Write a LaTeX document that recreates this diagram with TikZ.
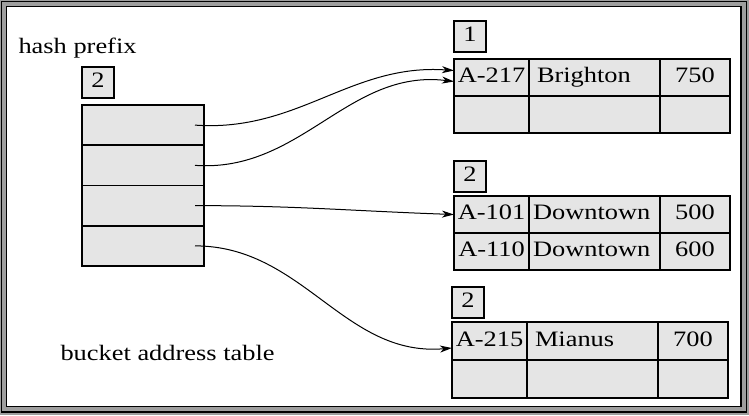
\documentclass[tikz,border=0pt]{standalone}
\usepackage{fontspec}
\setmainfont{Liberation Serif}[FakeStretch=1.2]
\usetikzlibrary{arrows.meta, positioning}
\definecolor{cellgray}{gray}{0.9}
\definecolor{framegray}{gray}{0.62}

\begin{document}
\begin{tikzpicture}[x=1pt, y=-1pt, >={Stealth[length=12pt, width=7pt, inset=3.5pt]},
  every node/.style={font=\fontsize{22}{25}\selectfont},
  cell/.style={draw, line width=1.6pt, fill=cellgray, inner sep=0pt, outer sep=0pt,
    anchor=north west, minimum height=37pt, text height=14.5pt, text depth=4.5pt},
  keycell/.style={cell, minimum width=75pt},
  namecell/.style={cell, minimum width=131pt, text width=115pt, align=left},
  valcell/.style={cell, minimum width=70pt},
  tag/.style={cell, minimum width=32pt, minimum height=31pt},
  link/.style={->, line width=1pt}]
\useasboundingbox (0,0) rectangle (749,415);
% frame
\fill[framegray] (0,0) rectangle (749,415);
\draw[line width=1.2pt] (1.8,1.8) rectangle (746.4,412);
\filldraw[fill=white, line width=1.5pt] (6.5,6.5) rectangle (741,406.5);

% bucket address table
\node[anchor=base west] (hashlbl) at (15,53) {hash prefix};
\node[tag] (depth) at (82,67) {2};
\node[cell, minimum width=122pt, minimum height=40.25pt] (bat1) at (82,105) {};
\foreach \i [count=\j from 2] in {1,2,3}
  \node[cell, minimum width=122pt, minimum height=40.25pt] (bat\j) at (bat\i.south west) {};
\foreach \i in {1,...,4}
  \coordinate (ptr\i) at ([xshift=-9pt]bat\i.east);
\node[anchor=base west] (tablelbl) at (57,360) {bucket address table};

% bucket 1
\node[keycell] (b1k1) at (454,59) {A-217};
\node[namecell] (b1n1) at (b1k1.north east) {Brighton};
\node[valcell] (b1v1) at (b1n1.north east) {750};
\node[keycell] (b1k2) at (b1k1.south west) {};
\node[namecell] (b1n2) at (b1k2.north east) {};
\node[valcell] (b1v2) at (b1n2.north east) {};
\node[tag, above right=7pt and 0pt of b1k1.north west] (b1depth) {1};

% bucket 2
\node[keycell] (b2k1) at (454,196) {A-101};
\node[namecell, text width=123pt] (b2n1) at (b2k1.north east) {Downtown};
\node[valcell] (b2v1) at (b2n1.north east) {500};
\node[keycell] (b2k2) at (b2k1.south west) {A-110};
\node[namecell, text width=123pt] (b2n2) at (b2k2.north east) {Downtown};
\node[valcell] (b2v2) at (b2n2.north east) {600};
\node[tag, above right=4pt and 0pt of b2k1.north west] (b2depth) {2};

% bucket 3
\node[keycell, minimum height=38pt] (b3k1) at (452,322) {A-215};
\node[namecell, minimum height=38pt] (b3n1) at (b3k1.north east) {Mianus};
\node[valcell, minimum height=38pt] (b3v1) at (b3n1.north east) {700};
\node[keycell, minimum height=38pt] (b3k2) at (b3k1.south west) {};
\node[namecell, minimum height=38pt] (b3n2) at (b3k2.north east) {};
\node[valcell, minimum height=38pt] (b3v2) at (b3n2.north east) {};
\node[tag, above right=4pt and 0pt of b3k1.north west] (b3depth) {2};

% pointers
\draw[link] (ptr1) to[out=-4, in=176] ([yshift=7pt]b1k1.west);
\draw[link] (ptr2) to[out=-4, in=173] ([yshift=-4pt]b1k1.west);
\draw[link] (ptr3) to[out=0, in=178] (b2k1.west);
\draw[link] (ptr4) to[out=0, in=185] ([yshift=-7pt]b3k1.west);
\end{tikzpicture}
\end{document}
